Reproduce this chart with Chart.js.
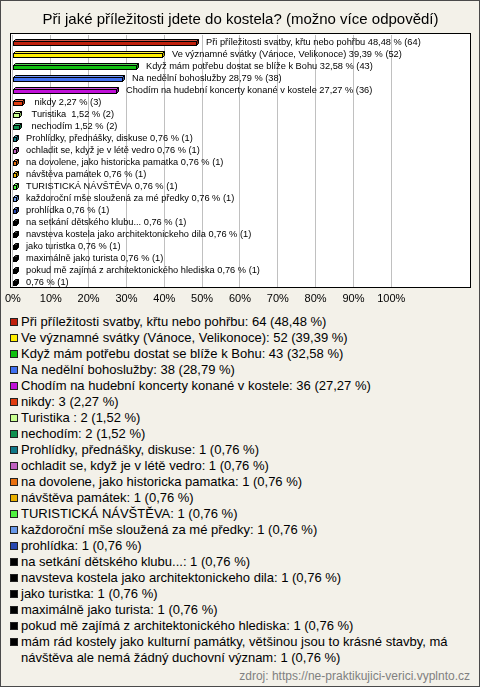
<!DOCTYPE html>
<html><head><meta charset="utf-8">
<script src="https://cdn.jsdelivr.net/npm/chart.js@4/dist/chart.umd.min.js"></script>
<style>
html,body{margin:0;padding:0;}
body{position:relative;width:480px;height:687px;overflow:hidden;background:#f3f1e9;font-family:"Liberation Sans",Arial,sans-serif;}
#frame{position:absolute;left:0;top:0;width:480px;height:687px;box-sizing:border-box;border:1px solid #4a4a4a;pointer-events:none;}
#chartBox{position:absolute;left:0;top:0;width:480px;height:310px;}
#legend{position:absolute;left:10px;top:314px;width:462px;}
.item{display:flex;align-items:flex-start;font-size:13px;line-height:16px;color:#000;}
.sw{width:6px;height:6px;border:1px solid #222;margin:4px 3px 0 0;flex:none;}
#source{position:absolute;right:10px;top:669px;font-size:12px;color:#808080;}
</style>
</head><body>
<div id="chartBox"><canvas id="c" width="480" height="310"></canvas></div>
<div id="legend"></div>
<div id="source">zdroj: https://ne-praktikujici-verici.vyplnto.cz</div>
<div id="frame"></div>
<script>
const title = 'Při jaké příležitosti jdete do kostela? (možno více odpovědí)';
const categories = [
  'Při příležitosti svatby, křtu nebo pohřbu',
  'Ve významné svátky (Vánoce, Velikonoce)',
  'Když mám potřebu dostat se blíže k Bohu',
  'Na nedělní bohoslužby',
  'Chodím na hudební koncerty konané v kostele',
  'nikdy',
  'Turistika ',
  'nechodím',
  'Prohlídky, přednášky, diskuse',
  'ochladit se, když je v létě vedro',
  'na dovolene, jako historicka pamatka',
  'návštěva památek',
  'TURISTICKÁ NÁVŠTĚVA',
  'každoroční mše sloužená za mé předky',
  'prohlídka',
  'na setkání dětského klubu...',
  'navsteva kostela jako architektonickeho dila',
  'jako turistka',
  'maximálně jako turista',
  'pokud mě zajímá z architektonického hlediska',
  'mám rád kostely jako kulturní památky, většinou jsou to krásné stavby, má návštěva ale nemá žádný duchovní význam'
];
const barLabels = [
  'Při příležitosti svatby, křtu nebo pohřbu',
  'Ve významné svátky (Vánoce, Velikonoce)',
  'Když mám potřebu dostat se blíže k Bohu',
  'Na nedělní bohoslužby',
  'Chodím na hudební koncerty konané v kostele',
  ' nikdy',
  ' Turistika ',
  ' nechodím',
  'Prohlídky, přednášky, diskuse',
  'ochladit se, když je v létě vedro',
  'na dovolene, jako historicka pamatka',
  'návštěva památek',
  'TURISTICKÁ NÁVŠTĚVA',
  'každoroční mše sloužená za mé předky',
  'prohlídka',
  'na setkání dětského klubu...',
  'navsteva kostela jako architektonickeho dila',
  'jako turistka',
  'maximálně jako turista',
  'pokud mě zajímá z architektonického hlediska',
  ''
];
const counts = [64, 52, 43, 38, 36, 3, 2, 2, 1, 1, 1, 1, 1, 1, 1, 1, 1, 1, 1, 1, 1];
const percents = [48.48, 39.39, 32.58, 28.79, 27.27, 2.27, 1.52, 1.52, 0.76, 0.76, 0.76, 0.76, 0.76, 0.76, 0.76, 0.76, 0.76, 0.76, 0.76, 0.76, 0.76];
const colors = ['#c0200c','#ffee00','#10c010','#4070f0','#c010d8','#e03c10','#c8ff90','#109050','#107888','#c060c0','#e87010','#e8b000','#50f040','#6898e8','#2848b0','#000000','#000000','#000000','#000000','#000000','#000000'];
const xTicks = [0, 10, 20, 30, 40, 50, 60, 70, 80, 90, 100];

const fmt = v => v.toFixed(2).replace('.', ',');

function shade(hex, f) {
  const n = parseInt(hex.slice(1), 16);
  let r = (n >> 16) & 255, g = (n >> 8) & 255, b = n & 255;
  if (f > 0) { r += (255 - r) * f; g += (255 - g) * f; b += (255 - b) * f; }
  else { r *= 1 + f; g *= 1 + f; b *= 1 + f; }
  return 'rgb(' + Math.round(r) + ',' + Math.round(g) + ',' + Math.round(b) + ')';
}

const framePlugin = {
  id: 'framePlugin',
  beforeDraw(chart) {
    const ctx = chart.ctx;
    ctx.save();
    ctx.fillStyle = '#ffffff';
    ctx.fillRect(10, 33, 460, 254);
    ctx.restore();
  },
  afterDatasetsDraw(chart) {
    const ctx = chart.ctx;
    const meta = chart.getDatasetMeta(0);
    ctx.save();
    ctx.lineWidth = 1;
    ctx.strokeStyle = '#000';
    meta.data.forEach((el, i) => {
      const x0 = Math.round(el.base) + 0.5;
      const x1 = Math.round(el.x) + 0.5;
      const c = Math.round(el.y);
      const y0 = c + 0.5, y1 = c + 4.5, d = 2;
      const col = colors[i];
      // top face
      ctx.beginPath();
      ctx.moveTo(x0, y0); ctx.lineTo(x0 + d, y0 - d); ctx.lineTo(x1 + d, y0 - d); ctx.lineTo(x1, y0); ctx.closePath();
      ctx.fillStyle = shade(col, 0.25); ctx.fill(); ctx.stroke();
      // right face
      ctx.beginPath();
      ctx.moveTo(x1, y0); ctx.lineTo(x1 + d, y0 - d); ctx.lineTo(x1 + d, y1 - d); ctx.lineTo(x1, y1); ctx.closePath();
      ctx.fillStyle = shade(col, -0.3); ctx.fill(); ctx.stroke();
      // front face
      ctx.fillStyle = col;
      ctx.fillRect(x0, y0, x1 - x0, y1 - y0);
      ctx.strokeRect(x0, y0, x1 - x0, y1 - y0);
    });
    // labels
    ctx.fillStyle = '#000';
    ctx.font = '9.25px "Liberation Sans", Arial, sans-serif';
    ctx.textBaseline = 'middle';
    ctx.textAlign = 'left';
    try { ctx.letterSpacing = '0px'; } catch (e) {}
    meta.data.forEach((el, i) => {
      const name = barLabels[i];
      const txt = (name === '' ? '' : name + ' ') + fmt(percents[i]) + ' % (' + counts[i] + ')';
      ctx.fillText(txt, Math.round(el.x) + 10, Math.round(el.y) + 1);
    });
    ctx.restore();
  },
  afterDraw(chart) {
    const ctx = chart.ctx;
    ctx.save();
    ctx.strokeStyle = '#000';
    ctx.lineWidth = 1;
    ctx.strokeRect(10.5, 33.5, 460, 254);
    ctx.restore();
  }
};

new Chart(document.getElementById('c'), {
  type: 'bar',
  data: {
    labels: barLabels,
    datasets: [{
      data: percents,
      backgroundColor: 'rgba(0,0,0,0)',
      borderWidth: 0,
      barThickness: 4
    }]
  },
  options: {
    indexAxis: 'y',
    responsive: false,
    animation: false,
    events: [],
    layout: { padding: { left: 11, right: 10, top: 0, bottom: 0 } },
    plugins: {
      legend: { display: false },
      tooltip: { enabled: false },
      title: {
        display: true, text: title, color: '#000',
        font: { size: 15, family: '"Liberation Sans", Arial, sans-serif', weight: 'normal' },
        padding: { top: 11, bottom: 6 }
      }
    },
    scales: {
      x: {
        min: 0, max: 120.8,
        afterBuildTicks: s => { s.ticks = xTicks.map(v => ({ value: v })); },
        afterFit: s => { s.height = 23; },
        ticks: {
          callback: v => v + '%', color: '#000', padding: 5, autoSkip: false, maxRotation: 0,
          font: { size: 11, family: '"Liberation Sans", Arial, sans-serif' }
        },
        grid: { color: '#c0c0c0', drawTicks: false, tickLength: 0 },
        border: { display: false }
      },
      y: { display: false }
    }
  },
  plugins: [framePlugin]
});

const legend = document.getElementById('legend');
categories.forEach((name, i) => {
  const row = document.createElement('div');
  row.className = 'item';
  const sw = document.createElement('span');
  sw.className = 'sw';
  sw.style.background = colors[i];
  const t = document.createElement('span');
  t.textContent = name + ': ' + counts[i] + ' (' + fmt(percents[i]) + ' %)';
  row.appendChild(sw); row.appendChild(t);
  legend.appendChild(row);
});
</script>
</body></html>
